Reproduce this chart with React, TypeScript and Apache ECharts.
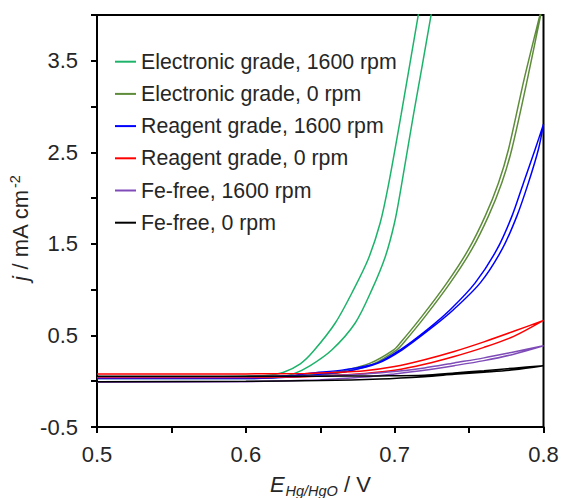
import React, { useEffect, useRef } from "react";
import * as echarts from "echarts";

// Potential (V vs Hg/HgO) and current density (mA cm-2) pairs for each CV loop.
// "anodic" = upper/left branch of the loop, "cathodic" = lower/right branch.
const electronic1600Anodic: [number, number][] = [
  [0.5, 0.05], [0.58, 0.05], [0.6, 0.055], [0.615, 0.065], [0.625, 0.095], [0.6366, 0.19],
  [0.6455, 0.33], [0.6601, 0.636], [0.6724, 1.0], [0.6824, 1.34], [0.6903, 1.731],
  [0.6959, 2.15], [0.7044, 2.917], [0.716, 4.013], [0.719, 4.3],
];
const electronic1600Cathodic: [number, number][] = [
  [0.5, 0.03], [0.58, 0.03], [0.6, 0.03], [0.62, 0.04], [0.632, 0.08], [0.6433, 0.17],
  [0.6579, 0.343], [0.6735, 0.636], [0.6847, 1.0], [0.6937, 1.36], [0.6999, 1.731],
  [0.7041, 2.096], [0.7127, 2.917], [0.7246, 4.013], [0.727, 4.3],
];

const electronic0Anodic: [number, number][] = [
  [0.5, 0.05], [0.6, 0.05], [0.63, 0.06], [0.65, 0.08], [0.6657, 0.117], [0.6836, 0.198],
  [0.6993, 0.343], [0.7037, 0.417], [0.7183, 0.708], [0.7351, 1.074], [0.7496, 1.439],
  [0.7608, 1.803], [0.7698, 2.169], [0.7765, 2.534], [0.787, 3.3], [0.7978, 4.013], [0.8, 4.15],
];
const electronic0Cathodic: [number, number][] = [
  [0.5, 0.035], [0.6, 0.035], [0.63, 0.045], [0.65, 0.065], [0.6675, 0.105], [0.6858, 0.19],
  [0.7015, 0.343], [0.7059, 0.417], [0.7205, 0.708], [0.7373, 1.074], [0.7518, 1.439],
  [0.763, 1.803], [0.772, 2.169], [0.7787, 2.534], [0.7892, 3.3], [0.8, 4.15],
];

const reagent1600Anodic: [number, number][] = [
  [0.5, 0.05], [0.6, 0.05], [0.63, 0.06], [0.6433, 0.088], [0.6657, 0.124], [0.6881, 0.198],
  [0.7037, 0.343], [0.7217, 0.562], [0.7373, 0.781], [0.7541, 1.074], [0.7687, 1.439],
  [0.7788, 1.803], [0.7866, 2.169], [0.7944, 2.534], [0.8, 2.808],
];
const reagent1600Cathodic: [number, number][] = [
  [0.5, 0.03], [0.6, 0.03], [0.63, 0.045], [0.65, 0.075], [0.67, 0.115], [0.689, 0.198],
  [0.7051, 0.343], [0.7232, 0.562], [0.7395, 0.781], [0.7575, 1.074], [0.7721, 1.439],
  [0.7821, 1.803], [0.7899, 2.169], [0.7966, 2.534], [0.8, 2.808],
];

const reagent0Anodic: [number, number][] = [
  [0.5, 0.08], [0.6, 0.08], [0.64, 0.085], [0.66, 0.095], [0.68, 0.115], [0.7, 0.16],
  [0.72, 0.235], [0.74, 0.325], [0.76, 0.43], [0.78, 0.545], [0.8, 0.664],
];
const reagent0Cathodic: [number, number][] = [
  [0.5, 0.04], [0.6, 0.04], [0.64, 0.05], [0.66, 0.065], [0.68, 0.085], [0.7, 0.12],
  [0.72, 0.185], [0.74, 0.27], [0.76, 0.37], [0.78, 0.49], [0.8, 0.664],
];

const feFree1600Anodic: [number, number][] = [
  [0.5, 0.05], [0.6, 0.05], [0.64, 0.055], [0.66, 0.065], [0.68, 0.08], [0.7, 0.105],
  [0.72, 0.145], [0.74, 0.2], [0.76, 0.255], [0.78, 0.32], [0.8, 0.387],
];
const feFree1600Cathodic: [number, number][] = [
  [0.5, -0.01], [0.6, -0.005], [0.64, 0.01], [0.66, 0.025], [0.68, 0.045], [0.7, 0.08],
  [0.72, 0.12], [0.74, 0.17], [0.76, 0.225], [0.78, 0.295], [0.8, 0.387],
];

const feFree0Anodic: [number, number][] = [
  [0.5, 0.055], [0.6, 0.055], [0.65, 0.055], [0.69, 0.058], [0.72, 0.065], [0.74, 0.09],
  [0.76, 0.115], [0.78, 0.143], [0.8, 0.168],
];
const feFree0Cathodic: [number, number][] = [
  [0.5, -0.005], [0.6, 0.0], [0.65, 0.008], [0.69, 0.025], [0.72, 0.05], [0.74, 0.075],
  [0.76, 0.098], [0.78, 0.124], [0.8, 0.168],
];

const seriesNames = [
  "Electronic grade, 1600 rpm",
  "Electronic grade, 0 rpm",
  "Reagent grade, 1600 rpm",
  "Reagent grade, 0 rpm",
  "Fe-free, 1600 rpm",
  "Fe-free, 0 rpm",
];
const seriesColors = ["#1DB36B", "#5E8C3A", "#0000FF", "#FF0000", "#7F4BB8", "#000000"];
const branches: [[number, number][], [number, number][]][] = [
  [electronic1600Anodic, electronic1600Cathodic],
  [electronic0Anodic, electronic0Cathodic],
  [reagent1600Anodic, reagent1600Cathodic],
  [reagent0Anodic, reagent0Cathodic],
  [feFree1600Anodic, feFree1600Cathodic],
  [feFree0Anodic, feFree0Cathodic],
];

const xMin = 0.5;
const xMax = 0.8;
const xStep = 0.05;
const yMin = -0.5;
const yMax = 4.0;
const yStep = 0.5;

const fontFamily = '"Liberation Sans", Arial, Helvetica, sans-serif';
const textColor = "#262626";

export default function App() {
  const ref = useRef<HTMLDivElement>(null);

  useEffect(() => {
    if (!ref.current) return;
    const chart = echarts.init(ref.current, undefined, { renderer: "svg" });

    const series = seriesNames.map((name, i) => {
      const [up, down] = branches[i];
      // forward sweep, then the return sweep back to 0.5 V
      const loop = [...up, ...down.slice().reverse()];
      return {
        type: "line",
        name,
        data: loop,
        showSymbol: false,
        symbol: "none",
        smooth: 0.3,
        clip: true,
        lineStyle: { width: 1.5, color: seriesColors[i] },
        itemStyle: { color: seriesColors[i] },
        emphasis: { disabled: true },
        z: 2 + i,
      };
    });

    const mainFs = 22;
    const subFs = 14.5;
    const cen = (baseline: number, fs: number) => baseline - 0.3465 * fs;

    chart.setOption({
      animation: false,
      grid: {
        left: 97,
        top: 15,
        width: 446.5,
        height: 412,
        show: true,
        borderColor: "#000",
        borderWidth: 2,
        backgroundColor: "transparent",
        containLabel: false,
        outerBoundsMode: "none",
      },
      xAxis: {
        type: "value",
        min: xMin,
        max: xMax,
        interval: xStep,
        axisLine: { show: true, onZero: false, lineStyle: { color: "#000", width: 2 } },
        axisTick: { show: true, inside: false, length: 6, lineStyle: { color: "#000", width: 2 } },
        splitLine: { show: false },
        axisLabel: {
          show: true,
          margin: 16,
          fontSize: 22,
          color: textColor,
          fontFamily,
          showMinLabel: true,
          showMaxLabel: true,
          hideOverlap: false,
          formatter: (v: number) => {
            const t = v * 10;
            return Math.abs(t - Math.round(t)) < 1e-6 ? v.toFixed(1) : "";
          },
        },
      },
      yAxis: {
        type: "value",
        min: yMin,
        max: yMax,
        interval: yStep,
        axisLine: { show: true, onZero: false, lineStyle: { color: "#000", width: 2 } },
        axisTick: { show: true, inside: false, length: 6, lineStyle: { color: "#000", width: 2 } },
        splitLine: { show: false },
        axisLabel: {
          show: true,
          margin: 19,
          fontSize: 22,
          color: textColor,
          fontFamily,
          showMinLabel: true,
          showMaxLabel: true,
          hideOverlap: false,
          formatter: (v: number) => {
            const frac = Math.abs(v % 1);
            return Math.abs(frac - 0.5) < 1e-6 ? v.toFixed(1) : "";
          },
        },
      },
      legend: {
        show: true,
        orient: "vertical",
        left: 115,
        top: 50.7,
        padding: 0,
        itemGap: 10.2,
        itemWidth: 21,
        itemHeight: 2,
        icon: "rect",
        selectedMode: false,
        data: seriesNames,
        textStyle: { fontSize: 21.3, lineHeight: 22, color: textColor, fontFamily },
      },
      graphic: [
        // x-axis title: E with italic subscript Hg/HgO, then " / V"
        {
          type: "text",
          x: 270,
          y: cen(492, mainFs),
          style: { text: "E", fontSize: mainFs, fontStyle: "italic", fontFamily, fill: textColor, verticalAlign: "middle", align: "left" },
        },
        {
          type: "text",
          x: 285.5,
          y: cen(496, subFs),
          style: { text: "Hg/HgO", fontSize: subFs, fontStyle: "italic", fontFamily, fill: textColor, verticalAlign: "middle", align: "left" },
        },
        {
          type: "text",
          x: 338,
          y: cen(492, mainFs),
          style: { text: " / V", fontSize: mainFs, fontFamily, fill: textColor, verticalAlign: "middle", align: "left" },
        },
        // y-axis title, rotated to read bottom-to-top
        {
          type: "group",
          x: 28.5,
          y: 281,
          rotation: Math.PI / 2,
          children: [
            {
              type: "text",
              x: 0,
              y: -0.3465 * mainFs,
              style: { text: "j", fontSize: mainFs, fontStyle: "italic", fontFamily, fill: textColor, verticalAlign: "middle", align: "left" },
            },
            {
              type: "text",
              x: 5.5,
              y: -0.3465 * mainFs,
              style: { text: " / mA cm", fontSize: mainFs, fontFamily, fill: textColor, verticalAlign: "middle", align: "left" },
            },
            {
              type: "text",
              x: 93,
              y: -8 - 0.3465 * subFs,
              style: { text: "-2", fontSize: subFs, fontFamily, fill: textColor, verticalAlign: "middle", align: "left" },
            },
          ],
        },
      ],
      series,
    });

    return () => {
      chart.dispose();
    };
  }, []);

  return (
    <div
      ref={ref}
      style={{ position: "fixed", left: 0, top: 0, width: 563, height: 498, background: "#fff" }}
    />
  );
}
